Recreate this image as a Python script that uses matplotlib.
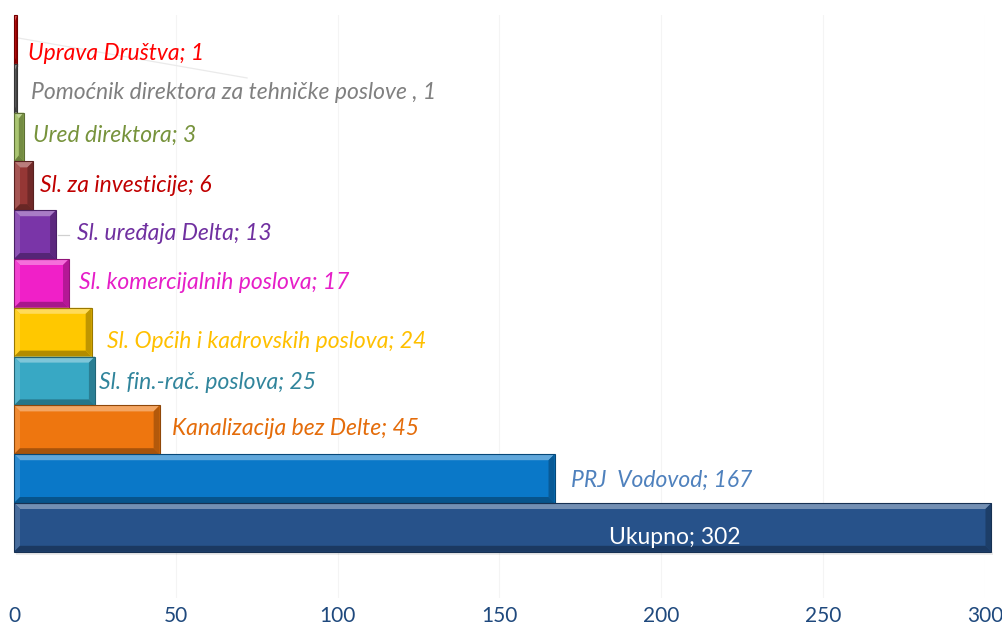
# staff count per unit, horizontal bar chart with bevelled bars
import numpy as np
import matplotlib.pyplot as plt
from matplotlib.patches import Polygon

units = ["Uprava Društva", "Pomoćnik direktora za tehničke poslove ",
         "Ured direktora", "Sl. za investicije", "Sl. uređaja Delta",
         "Sl. komercijalnih poslova", "Sl. Općih i kadrovskih poslova",
         "Sl. fin.-rač. poslova", "Kanalizacija bez Delte", "PRJ  Vodovod",
         "Ukupno"]
counts = [1, 1, 3, 6, 13, 17, 24, 25, 45, 167, 302]
seps = ["; ", ", ", "; ", "; ", "; ", "; ", "; ", "; ", "; ", "; ", "; "]

bar_colors = ["#C00000", "#595959", "#9BBB59", "#953735", "#7A35A8", "#F020C8",
              "#FFC800", "#38A8C4", "#EE760F", "#0A78C8", "#27528A"]
text_colors = ["#FF0000", "#808080", "#77933C", "#C00000", "#7030A0", "#E61EC8",
               "#FFC000", "#31859C", "#E46C0A", "#4F81BD", "#FFFFFF"]
# label offsets in points from bar end (x) and from bar centre (y, downwards)
lab_dx = [8, 10, 7, 5, 15, 7, 11, 3, 9, 12, -228]
lab_dy = [10, 3, -1, 0, -1, -1, 7, 1, -1, 1, 7]

plt.rcParams['font.family'] = ['Lato', 'DejaVu Sans']

fig = plt.figure(figsize=(10.03, 6.3), dpi=100)
plot_w = 971
ax = fig.add_axes([14 / 1003, 1 - 598 / 630, plot_w / 1003, 583 / 630])

ypos = np.arange(len(units))
ax.set_xlim(0, 300)
ax.set_ylim(-0.5 + 583 / 48.8, -0.5)

# faint vertical grid
for gx in range(50, 301, 50):
    ax.axvline(gx, color="#F4F4F4", lw=0.8, zorder=0)

bars = ax.barh(ypos, counts, height=1.0, color=bar_colors, zorder=2,
               edgecolor="none", clip_on=False)

# pixel size of one data unit
ppx = plot_w / 300
ppy = 48.8


def shade(c, f):
    c = np.array(plt.matplotlib.colors.to_rgb(c))
    if f > 0:
        return tuple(c + (1 - c) * f)
    return tuple(c * (1 + f))


for b, col in zip(bars, bar_colors):
    x0, y0 = b.get_x(), b.get_y()
    w, h = b.get_width(), b.get_height()
    x1, y1 = x0 + w, y0 + h
    bx = min(6 / ppx, w / 2)
    by = min(6 / ppy, h / 2)
    # y axis is inverted: y0 is the top edge on screen
    top = [(x0, y0), (x1, y0), (x1 - bx, y0 + by), (x0 + bx, y0 + by)]
    bot = [(x0, y1), (x1, y1), (x1 - bx, y1 - by), (x0 + bx, y1 - by)]
    lft = [(x0, y0), (x0 + bx, y0 + by), (x0 + bx, y1 - by), (x0, y1)]
    rgt = [(x1, y0), (x1 - bx, y0 + by), (x1 - bx, y1 - by), (x1, y1)]
    for pts, f in [(top, 0.35), (lft, 0.15), (rgt, -0.25), (bot, -0.3)]:
        ax.add_patch(Polygon(pts, closed=True, facecolor=shade(col, f),
                             edgecolor="none", zorder=3, clip_on=False))
    ax.add_patch(plt.Rectangle((x0, y0), w, h, fill=False, clip_on=False,
                               edgecolor=shade(col, -0.4), lw=0.8, zorder=4))
    # soft shadow below
    ax.add_patch(plt.Rectangle((x0 + 0.6, y1), w, 3 / ppy, facecolor="#000000",
                               alpha=0.08, edgecolor="none", zorder=1,
                               clip_on=False))

# leader lines
ax.plot([1.2, 72], [-0.03, 0.79], color="#EAEAEA", lw=0.9, zorder=1)
ax.plot([13.5, 17], [4.0, 4.0], color="#D0D0D0", lw=0.9, zorder=1)

for i, (u, v, s) in enumerate(zip(units, counts, seps)):
    txt = f"{u}{s}{v}"
    last = i == len(units) - 1
    ax.annotate(txt, (v, i), xytext=(lab_dx[i], -lab_dy[i]),
                textcoords="offset points", ha="center" if last else "left",
                va="center", color=text_colors[i], fontsize=16.5,
                style="normal" if last else "italic", zorder=5,
                annotation_clip=False)

ax.set_xticks(range(0, 301, 50))
ax.tick_params(axis="x", length=0, pad=6, labelsize=15, labelcolor="#1F497D")
ax.set_yticks([])
for sp in ax.spines.values():
    sp.set_visible(False)

fig.savefig("out.png", dpi=100)
